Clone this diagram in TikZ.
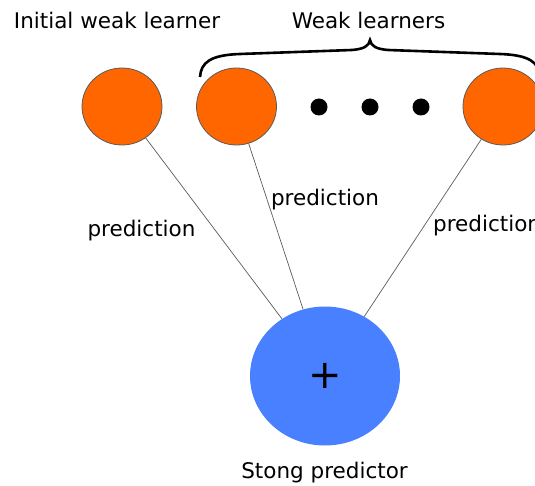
\documentclass[tikz,border=0pt]{standalone}
\usepackage{fontspec}
\setmainfont{DejaVu Sans}
\usetikzlibrary{shapes.geometric}
\definecolor{orangefill}{RGB}{255,102,0}
\definecolor{bluefill}{RGB}{72,128,255}
\definecolor{edgegray}{RGB}{90,90,90}
\begin{document}
\begin{tikzpicture}[x=1pt,y=-1pt,
  learner/.style={ellipse,draw=edgegray,line width=0.8pt,fill=orangefill,minimum width=80pt,minimum height=77pt,inner sep=0pt},
  strong/.style={ellipse,fill=bluefill,minimum width=150pt,minimum height=139pt,inner sep=0pt,font=\fontsize{40}{40}\selectfont},
  dotn/.style={circle,fill=black,minimum size=17pt,inner sep=0pt},
  lbl/.style={font=\fontsize{21.5}{25}\selectfont,inner sep=0pt,anchor=base},
  conn/.style={draw=edgegray,line width=0.7pt}]
\useasboundingbox (0,0) rectangle (535,486);
\begin{scope}
\clip (0,0) rectangle (535,486);
\node[lbl] (t1) at (117,29) {Initial weak learner};
\node[lbl] (t2) at (368.5,29) {Weak learners};
\node[learner] (o1) at (122,106.5) {};
\node[learner] (o2) at (236.5,106.5) {};
\node[learner] (o3) at (503,106.5) {};
\node[dotn] (d1) at (319,107) {};
\node[dotn] (d2) at (370,107) {};
\node[dotn] (d3) at (421,107) {};
\node[strong] (s) at (325,376) {+};
\draw[conn] (o1) -- (s);
\draw[conn] (o2) -- (s);
\draw[conn] (o3) -- (s);
\node[lbl] (p1) at (141.5,237) {prediction};
\node[lbl] (p2) at (325,206) {prediction};
\node[lbl, anchor=base west] (p3) at (433,232) {prediction};
\node[lbl] (sp) at (324.5,478) {Stong predictor};
\draw[line width=2.6pt] (200,77) .. controls (201,62) and (211,55) .. (240,54) -- (352,50) .. controls (364,49) and (369,46) .. (370,40) .. controls (371,46) and (376,49) .. (388,50) -- (500,54) .. controls (529,55) and (539,62) .. (540,77);
\end{scope}
\end{tikzpicture}
\end{document}
